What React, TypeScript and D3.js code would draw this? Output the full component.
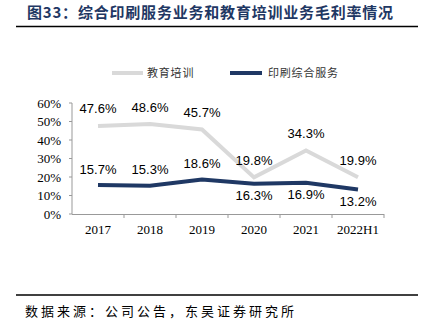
import React from "react";
import * as d3 from "d3";

const categories = ["2017", "2018", "2019", "2020", "2021", "2022H1"];
const eduValues = [47.6, 48.6, 45.7, 19.8, 34.3, 19.9];
const printValues = [15.7, 15.3, 18.6, 16.3, 16.9, 13.2];
const printLabelBelow = [false, false, false, true, true, true];
const yTicks = [0, 10, 20, 30, 40, 50, 60];
const seriesNames = ["教育培训", "印刷综合服务"];

const W = 424;
const H = 328;
const GRAY = "#d9d9d9";
const NAVY = "#1f3864";
const SANS = "'Liberation Sans', Arial, sans-serif";
const SERIF = "'Liberation Serif', 'Times New Roman', serif";
const CJK = "'Noto Sans CJK SC', sans-serif";

export default function App() {
  const x = d3.scaleBand<string>().domain(categories).range([72, 384]);
  const y = d3.scaleLinear().domain([0, 60]).range([214, 103]);
  const cx = (c: string) => (x(c) as number) + x.bandwidth() / 2;
  const line = d3
    .line<number>()
    .x((_, i) => cx(categories[i]))
    .y((d) => y(d));

  return (
    <svg width={W} height={H} style={{ position: "absolute", left: 0, top: 0, background: "#fff" }}>
      <text x={27} y={18} fontFamily={CJK} fontSize={15} fontWeight="bold" fill={NAVY} letterSpacing={0.8}>
        图33：综合印刷服务业务和教育培训业务毛利率情况
      </text>
      <line x1={16} x2={418} y1={26.5} y2={26.5} stroke="#000" strokeWidth={1.5} />

      {/* legend */}
      <line x1={112} x2={143} y1={73} y2={73} stroke={GRAY} strokeWidth={4} />
      <text x={147} y={77} fontFamily={CJK} fontSize={11} letterSpacing={0.8} fill="#333">
        {seriesNames[0]}
      </text>
      <line x1={230} x2={262} y1={73} y2={73} stroke={NAVY} strokeWidth={4} />
      <text x={268} y={77} fontFamily={CJK} fontSize={11} letterSpacing={0.8} fill="#333">
        {seriesNames[1]}
      </text>

      {/* axes */}
      <line x1={72} x2={72} y1={y(60)} y2={y(0)} stroke="#999" strokeWidth={1} />
      {yTicks.map((t) => (
        <g key={t}>
          <line x1={69} x2={72} y1={y(t)} y2={y(t)} stroke="#999" />
          <text x={61} y={y(t)} dy="0.35em" textAnchor="end" fontFamily={SERIF} fontSize={13} fill="#000">
            {t}%
          </text>
        </g>
      ))}
      <line x1={72} x2={384} y1={y(0) + 0.5} y2={y(0) + 0.5} stroke="#999" strokeWidth={1} />
      {categories.map((c, i) => (
        <g key={c}>
          <line
            x1={(x(c) as number) + x.bandwidth()}
            x2={(x(c) as number) + x.bandwidth()}
            y1={y(0)}
            y2={y(0) + 4}
            stroke="#999"
          />
          <text x={cx(c)} y={234} textAnchor="middle" fontFamily={SERIF} fontSize={13} fill="#000">
            {c}
          </text>
        </g>
      ))}

      {/* lines */}
      <path d={line(eduValues) || ""} fill="none" stroke={GRAY} strokeWidth={4} />
      <path d={line(printValues) || ""} fill="none" stroke={NAVY} strokeWidth={4} />

      {/* labels */}
      {eduValues.map((v, i) => (
        <text
          key={"e" + i}
          x={cx(categories[i])}
          y={y(v) - 17}
          dy="0.35em"
          textAnchor="middle"
          fontFamily={SANS}
          fontSize={13}
          fill="#000"
        >
          {v.toFixed(1)}%
        </text>
      ))}
      {printValues.map((v, i) => (
        <text
          key={"p" + i}
          x={cx(categories[i])}
          y={printLabelBelow[i] ? y(v) + 12 : y(v) - 16}
          dy="0.35em"
          textAnchor="middle"
          fontFamily={SANS}
          fontSize={13}
          fill="#000"
        >
          {v.toFixed(1)}%
        </text>
      ))}

      <line x1={16} x2={418} y1={295} y2={295} stroke="#000" strokeWidth={1.5} />
      <text x={25} y={316} fontFamily={CJK} fontSize={13} letterSpacing={3} fill="#000">
        数据来源：公司公告，东吴证券研究所
      </text>
    </svg>
  );
}
